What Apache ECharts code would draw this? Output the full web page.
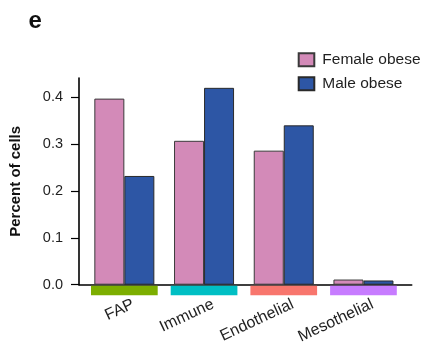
<!DOCTYPE html>
<html>
<head>
<meta charset="utf-8">
<script src="https://cdn.jsdelivr.net/npm/echarts@6/dist/echarts.min.js"></script>
<style>html,body{margin:0;padding:0;background:#fff}#c{width:433px;height:360px}</style>
</head>
<body>
<div id="c"></div>
<script>
const categories = ['FAP', 'Immune', 'Endothelial', 'Mesothelial'];
const categoryColors = ['#7CAE00', '#00BFC4', '#F8766D', '#C77CFF'];
const femaleObese = [0.397, 0.307, 0.286, 0.011];
const maleObese = [0.232, 0.420, 0.340, 0.009];
const yTicks = [0.0, 0.1, 0.2, 0.3, 0.4];
const seriesNames = ['Female obese', 'Male obese'];

const FONT = '"Liberation Sans", Arial, Helvetica, sans-serif';
const TXT = '#1f1f1f';
const yMax = 0.441;
const gridTop = 78, gridBottom = 75.3;

const chart = echarts.init(document.getElementById('c'), null, {renderer: 'canvas'});
chart.setOption({
  animation: false,
  backgroundColor: '#fff',
  title: {
    text: 'e', left: 23.5, top: 4,
    textStyle: {fontFamily: FONT, fontSize: 24, fontWeight: 'bold', color: '#111'}
  },
  legend: {
    orient: 'vertical', left: 292.7, top: 46.7,
    itemWidth: 15.6, itemHeight: 13, itemGap: 8,
    icon: 'rect',
    data: seriesNames,
    textStyle: {fontFamily: FONT, fontSize: 15.5, color: TXT, padding: [0, 0, 0, 3]}
  },
  grid: [
    {left: 84.5, right: 29.7, top: gridTop, bottom: gridBottom, containLabel: false},
    {left: 76.7, right: 21.3, top: gridTop, bottom: gridBottom, containLabel: false}
  ],
  xAxis: [
    {
      gridIndex: 0, type: 'category', data: categories,
      axisLine: {show: false}, axisTick: {show: false},
      axisLabel: {interval: 0, rotate: 25, margin: 23, padding: [0, -10, 0, 0],
        fontFamily: FONT, fontSize: 16, color: TXT}
    },
    {
      gridIndex: 1, type: 'value', min: 0, max: 1,
      axisLine: {show: true, lineStyle: {color: '#000', width: 1.6}},
      axisTick: {show: false}, axisLabel: {show: false}, splitLine: {show: false}
    }
  ],
  yAxis: [
    {
      gridIndex: 0, type: 'value', min: 0, max: yMax,
      show: false, splitLine: {show: false}
    },
    {
      gridIndex: 1, type: 'value', min: 0, max: yMax,
      axisLine: {show: true, lineStyle: {color: '#000', width: 1.6}},
      axisTick: {show: true, length: 8, inside: false, lineStyle: {color: '#000', width: 1.2},
        customValues: yTicks},
      axisLabel: {
        margin: 16, fontFamily: FONT, fontSize: 14.5, color: TXT,
        customValues: yTicks,
        formatter: v => v.toFixed(1)
      },
      splitLine: {show: false},
      name: 'Percent of cells', nameLocation: 'middle', nameGap: 56,
      nameTextStyle: {fontFamily: FONT, fontSize: 15, fontWeight: 'bold', color: '#111'}
    }
  ],
  series: [
    {
      name: seriesNames[0], type: 'bar', xAxisIndex: 0, yAxisIndex: 0,
      data: femaleObese, barGap: '0%', barCategoryGap: '24.7%',
      itemStyle: {color: '#D38AB8', borderColor: '#3a3a3a', borderWidth: 1}
    },
    {
      name: seriesNames[1], type: 'bar', xAxisIndex: 0, yAxisIndex: 0,
      data: maleObese, barGap: '0%', barCategoryGap: '24.7%',
      itemStyle: {color: '#2D56A5', borderColor: '#2a2a2a', borderWidth: 1}
    },
    {
      type: 'custom', xAxisIndex: 0, yAxisIndex: 0,
      data: categories.map((c, i) => [i, 0]),
      silent: true,
      renderItem: function (params, api) {
        const idx = api.value(0);
        const p = api.coord([idx, 0]);
        const band = api.size([1, 0])[0];
        const w = band * 0.837;
        return {
          type: 'rect',
          shape: {x: p[0] - w / 2, y: p[1] + 1, width: w, height: 9.5},
          style: {fill: categoryColors[idx]}
        };
      }
    }
  ]
});
</script>
</body>
</html>
